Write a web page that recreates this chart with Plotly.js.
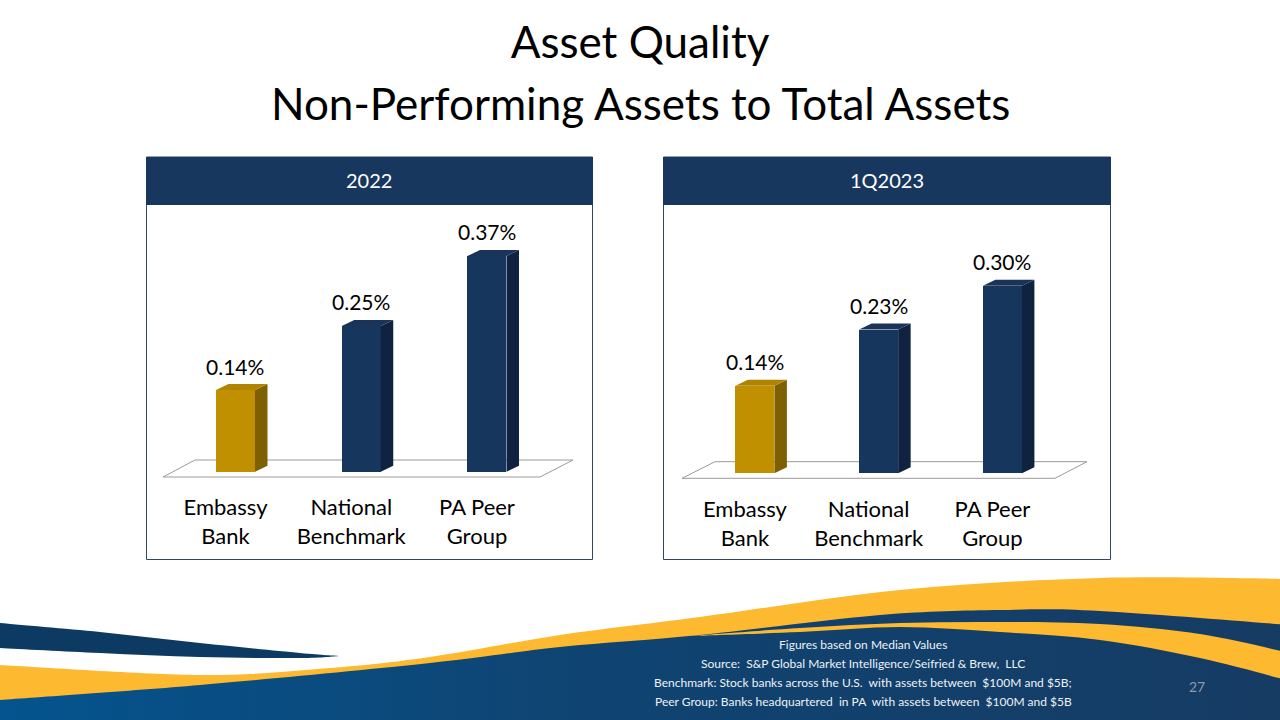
<!DOCTYPE html>
<html><head><meta charset="utf-8">
<script src="https://cdn.plot.ly/plotly-3.0.1.min.js"></script>
<style>html,body{margin:0;padding:0;background:#fff;overflow:hidden}#chart{width:1280px;height:720px;}</style>
</head><body><div id="chart"></div>
<script>
// ---------- data ----------
const categories = ['Embassy Bank', 'National Benchmark', 'PA Peer Group'];
const tickLabels = ['Embassy<br>Bank', 'National<br>Benchmark', 'PA Peer<br>Group'];
const panelTitles = ['2022', '1Q2023'];
const values2022 = [0.14, 0.25, 0.37];
const values1Q2023 = [0.14, 0.23, 0.30];
const valueLabels2022 = ['0.14%', '0.25%', '0.37%'];
const valueLabels1Q2023 = ['0.14%', '0.23%', '0.30%'];
const titleLine1 = 'Asset Quality';
const titleLine2 = 'Non-Performing Assets to Total Assets';
const footnotes = [
  'Figures based on Median Values',
  'Source:  S&P Global Market Intelligence/Seifried & Brew,  LLC',
  'Benchmark: Stock banks across the U.S.  with assets between  $100M and $5B;',
  'Peer Group: Banks headquartered  in PA  with assets between  $100M and $5B'
];
const pageNumber = '27';

// ---------- styles ----------
const FONT = 'Lato, "Open Sans", sans-serif';
const FRONT = ['#C09000', '#17365D', '#17365D'];
const SIDE  = ['#7F6000', '#0F2240', '#0F2240'];
const TOP   = ['#B08400', '#1A3358', '#1A3358'];
const NAVY_HEADER = '#17375E';
const GOLD = '#FDB930';

// panel geometry in page pixels
const panels = [
  {values: values2022, labels: valueLabels2022, title: panelTitles[0],
   box: [146, 157, 592, 559], c0: 235.5, sp: 125.75, zero: 471.7, ppu: 583, yBottomPx: 480,
   floor: {front: 477, back: 460, fl: 163, fr: 540, bl: 195, br: 573}},
  {values: values1Q2023, labels: valueLabels1Q2023, title: panelTitles[1],
   box: [663, 157, 1110, 559], c0: 754.9, sp: 123.75, zero: 473.3, ppu: 625, yBottomPx: 482,
   floor: {front: 478.3, back: 461.7, fl: 682, fr: 1055, bl: 715, br: 1087}}
];
const BAR_W_PX = 39, DEPTH_X_PX = 12.5, DEPTH_Y_PX = 6, TOP_PX = 215;
const XR = [-0.7, 2.8];

const traces = [];
const shapes = [];
const annotations = [];
const layout = {
  width: 1280, height: 720, margin: {l: 0, r: 0, t: 0, b: 0},
  paper_bgcolor: '#ffffff', plot_bgcolor: 'rgba(0,0,0,0)',
  showlegend: false, hovermode: false, bargap: 0,
  font: {family: FONT, color: '#000'},
  title: {text: titleLine1, x: 0.5, xanchor: 'center', y: 1 - 43 / 720, yanchor: 'middle',
          yref: 'container', font: {family: FONT, size: 44, color: '#000'}}
};

panels.forEach((p, k) => {
  const xa = k === 0 ? 'x' : 'x2', ya = k === 0 ? 'y' : 'y2';
  const xKey = k === 0 ? 'xaxis' : 'xaxis2', yKey = k === 0 ? 'yaxis' : 'yaxis2';
  const xL = p.c0 + XR[0] * p.sp, xRpx = p.c0 + XR[1] * p.sp;
  const yMin = -(p.yBottomPx - p.zero) / p.ppu, yMax = (p.zero - TOP_PX) / p.ppu;
  layout[xKey] = {domain: [xL / 1280, xRpx / 1280], range: XR, anchor: ya,
    showgrid: false, zeroline: false, showline: false, ticks: '', fixedrange: true,
    tickvals: p.values.map((v, i) => i - 10 / p.sp), ticktext: tickLabels,
    tickfont: {family: FONT, size: 22, color: '#000'}, ticklabelstandoff: 12};
  layout[yKey] = {domain: [1 - p.yBottomPx / 720, 1 - TOP_PX / 720], range: [yMin, yMax], anchor: xa,
    visible: false, fixedrange: true};

  const w = BAR_W_PX / p.sp, dx = DEPTH_X_PX / p.sp, dy = DEPTH_Y_PX / p.ppu;
  // front faces
  traces.push({type: 'bar', x: p.values.map((v, i) => i), y: p.values, width: w,
    marker: {color: FRONT, line: {width: 0}}, xaxis: xa, yaxis: ya, hoverinfo: 'skip',
    customdata: categories});
  // side & top faces
  p.values.forEach((v, i) => {
    const l = i - w / 2, r = i + w / 2;
    traces.push({type: 'scatter', mode: 'lines', xaxis: xa, yaxis: ya, hoverinfo: 'skip',
      x: [r, r + dx, r + dx, r, r], y: [0, dy, v + dy, v, 0], fill: 'toself',
      fillcolor: SIDE[i], line: {width: 0, color: SIDE[i]}});
    traces.push({type: 'scatter', mode: 'lines', xaxis: xa, yaxis: ya, hoverinfo: 'skip',
      x: [l, r, r + dx, l + dx, l], y: [v, v, v + dy, v + dy, v], fill: 'toself',
      fillcolor: TOP[i], line: {width: 0, color: TOP[i]}});
    annotations.push({xref: xa, yref: ya, x: i, y: v, yshift: 24, text: p.labels[i],
      showarrow: false, xanchor: 'center', yanchor: 'middle',
      font: {family: FONT, size: 21, color: '#000'}});
  });
  // floor
  const f = p.floor, X = px => (px - p.c0) / p.sp, Y = py => (p.zero - py) / p.ppu;
  shapes.push({type: 'path', xref: xa, yref: ya, layer: 'below',
    path: `M${X(f.fl)},${Y(f.front)} L${X(f.fr)},${Y(f.front)} L${X(f.br)},${Y(f.back)} L${X(f.bl)},${Y(f.back)} Z`,
    line: {color: '#9a9a9a', width: 1}, fillcolor: 'rgba(255,255,255,0)'});
  // panel frame + header
  const b = p.box;
  shapes.push({type: 'rect', xref: 'x3', yref: 'y3', x0: b[0] + 0.5, x1: b[2] + 0.5, y0: b[1], y1: b[3] + 0.5,
    line: {color: '#33465F', width: 1}, fillcolor: 'rgba(0,0,0,0)'});
  shapes.push({type: 'rect', xref: 'x3', yref: 'y3', x0: b[0], x1: b[2] + 1, y0: b[1], y1: b[1] + 48,
    line: {width: 0}, fillcolor: NAVY_HEADER});
  annotations.push({xref: 'x3', yref: 'y3', x: (b[0] + b[2]) / 2, y: b[1] + 23, text: p.title,
    showarrow: false, xanchor: 'center', yanchor: 'middle', font: {family: FONT, size: 20, color: '#ffffff'}});
});

// ---------- decorative background (page-pixel overlay axis) ----------
layout.xaxis3 = {domain: [0, 1], range: [0, 1280], visible: false, fixedrange: true, anchor: 'y3'};
layout.yaxis3 = {domain: [0, 1], range: [720, 0], visible: false, fixedrange: true, anchor: 'x3'};

function smooth(pts) {
  let d = '';
  for (let i = 0; i < pts.length - 1; i++) {
    const p0 = pts[i - 1] || pts[i], p1 = pts[i], p2 = pts[i + 1], p3 = pts[i + 2] || p2;
    const c1 = [p1[0] + (p2[0] - p0[0]) / 6, p1[1] + (p2[1] - p0[1]) / 6];
    const c2 = [p2[0] - (p3[0] - p1[0]) / 6, p2[1] - (p3[1] - p1[1]) / 6];
    d += ` C${c1[0]},${c1[1]} ${c2[0]},${c2[1]} ${p2[0]},${p2[1]}`;
  }
  return d;
}
function band(top, bottom) {
  return `M${top[0][0]},${top[0][1]}` + smooth(top) + ` L${bottom[0][0]},${bottom[0][1]}` + smooth(bottom) + ' Z';
}
const goldTop = [[-10, 664], [0, 665], [200, 675], [330, 668], [430, 657], [560, 635], [700, 617], [900, 590], [1100, 578], [1290, 579]];
const goldBot = [[-10, 701], [0, 700], [200, 685], [430, 663], [560, 647], [700, 635], [880, 615], [1000, 610], [1100, 611], [1290, 625]];
const cresTop = [[690, 636], [800, 628], [900, 623], [1000, 622], [1100, 624], [1200, 634], [1290, 653]];
const cresBot = [[1290, 681], [1200, 658], [1100, 640], [1000, 632], [900, 627], [800, 632], [690, 636]];
const swTop = [[-10, 622], [0, 623], [100, 632], [200, 643], [300, 653], [340, 656]];
const swBot = [[340, 656], [300, 658], [200, 657], [100, 653], [0, 648], [-10, 647]];

// main navy region with horizontal gradient
const navyX = goldBot.map(p => p[0]).concat([1290, -10]);
const navyY = goldBot.map(p => p[1] - 2).concat([740, 740]);
traces.push({type: 'scatter', mode: 'lines', xaxis: 'x3', yaxis: 'y3', hoverinfo: 'skip',
  x: navyX, y: navyY, fill: 'toself', line: {width: 0, color: '#123f6b', shape: 'spline', smoothing: 0.6},
  fillcolor: '#123f6b',
  fillgradient: {type: 'horizontal', colorscale: [[0, '#04548F'], [0.45, '#0F4472'], [1, '#163B63']]}});
shapes.push({type: 'path', xref: 'x3', yref: 'y3', path: band(goldTop, goldBot.slice().reverse()), fillcolor: GOLD, line: {width: 0}});
shapes.push({type: 'path', xref: 'x3', yref: 'y3', path: band(cresTop, cresBot), fillcolor: GOLD, line: {width: 0}});
shapes.push({type: 'path', xref: 'x3', yref: 'y3', path: band(swTop, swBot), fillcolor: '#0D3A62', line: {width: 0}});

// title line 2, footnotes, page number
annotations.push({xref: 'x3', yref: 'y3', x: 640, y: 103, text: titleLine2, showarrow: false,
  xanchor: 'center', yanchor: 'middle', font: {family: FONT, size: 44, color: '#000'}});
footnotes.forEach((t, i) => annotations.push({xref: 'x3', yref: 'y3', x: 863, y: 644 + 19 * i, text: t,
  showarrow: false, xanchor: 'center', yanchor: 'middle', font: {family: FONT, size: 12, color: '#EEF2F7'}}));
annotations.push({xref: 'x3', yref: 'y3', x: 1197, y: 686, text: pageNumber, showarrow: false,
  xanchor: 'center', yanchor: 'middle', font: {family: FONT, size: 14, color: '#8A9AB2'}});

layout.shapes = shapes;
layout.annotations = annotations;
Plotly.newPlot('chart', traces, layout, {staticPlot: true, displayModeBar: false});
</script></body></html>
